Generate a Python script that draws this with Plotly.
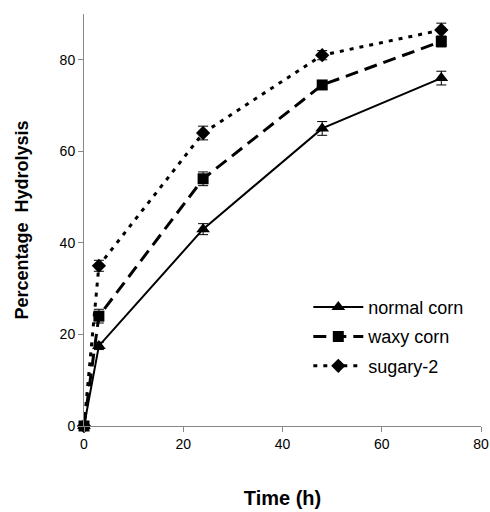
import plotly.graph_objects as go

time_h = [0, 3, 24, 48, 72]
normal_corn = [0, 17.5, 43, 65, 76]
normal_err = [0, 0.8, 1.2, 1.5, 1.5]
waxy_corn = [0, 24, 54, 74.5, 84]
waxy_err = [0, 1.5, 1.5, 0.8, 1.2]
sugary_2 = [0, 35, 64, 81, 86.5]
sugary_err = [0, 1.2, 1.5, 1.0, 1.5]

series = [
    ("normal corn", normal_corn, normal_err, "triangle-up", 12, "solid", 2),
    ("waxy corn", waxy_corn, waxy_err, "square", 11, "13px,7px", 3),
    ("sugary-2", sugary_2, sugary_err, "diamond", 11, "4px,6px", 3),
]

fig = go.Figure()
for name, vals, err, sym, size, dash, lw in series:
    fig.add_trace(go.Scatter(
        x=time_h, y=vals, name=name, legendgroup=name, mode="lines+markers",
        line=dict(color="black", width=lw, dash=dash),
        marker=dict(symbol=sym, size=size, color="black"),
        error_y=dict(type="data", array=err, color="black", thickness=1, width=5),
        cliponaxis=False,
    ))

fig.update_layout(
    width=490, height=512,
    margin=dict(l=84, r=9, t=14, b=86),
    plot_bgcolor="white", paper_bgcolor="white",
    font=dict(family="Liberation Sans, Arial, sans-serif", size=14, color="black"),
    showlegend=True,
    legend=dict(x=0.565, y=0.333, xanchor="left", yanchor="top",
                font=dict(size=18), bgcolor="rgba(0,0,0,0)",
                tracegroupgap=3, itemwidth=50),
)
fig.update_xaxes(
    range=[0, 80], tickvals=[0, 20, 40, 60, 80], showgrid=False, zeroline=False,
    showline=True, linecolor="#888888", linewidth=1, ticks="outside",
    ticklen=5, tickcolor="#888888", tickfont=dict(size=14), automargin=False,
    title=dict(text="<b>Time (h)</b>", font=dict(size=20), standoff=40),
)
fig.update_yaxes(
    range=[0, 90], tickvals=[0, 20, 40, 60, 80], showgrid=False, zeroline=False,
    showline=True, linecolor="#888888", linewidth=1, ticks="outside",
    ticklen=5, tickcolor="#888888", tickfont=dict(size=14), automargin=False,
    title=dict(text="<b>Percentage  Hydrolysis</b>", font=dict(size=18), standoff=26),
)
fig.write_html("out.html")
